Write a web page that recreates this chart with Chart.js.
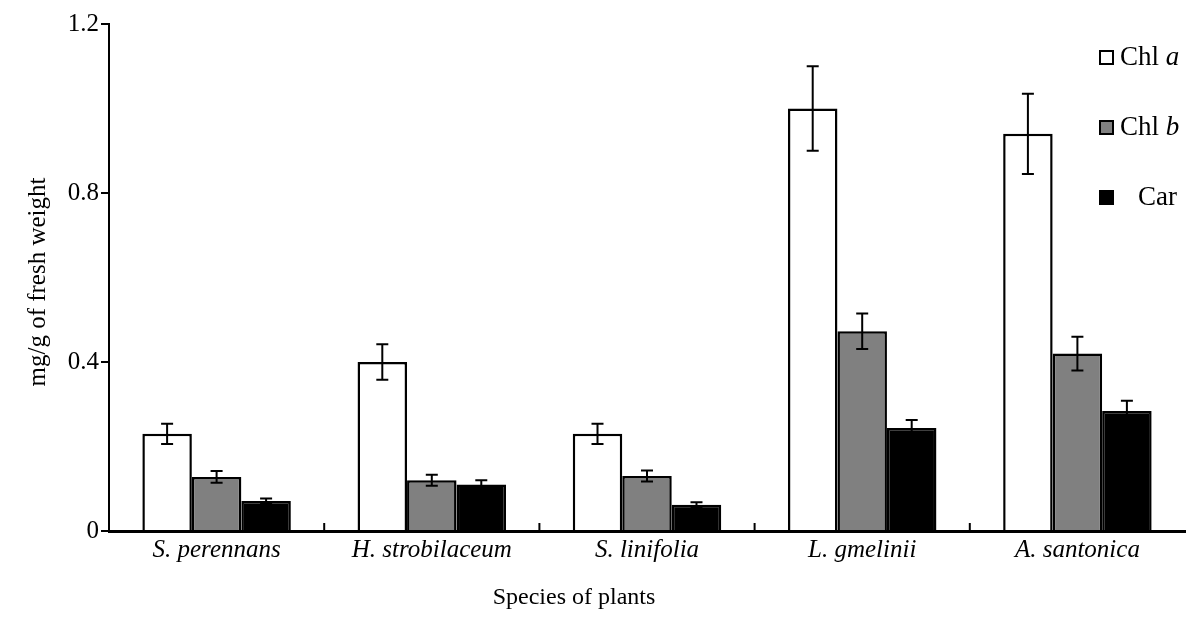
<!DOCTYPE html>
<html>
<head>
<meta charset="utf-8">
<script src="https://cdn.jsdelivr.net/npm/chart.js@4.4.0/dist/chart.umd.min.js"></script>
<style>
  html, body { margin: 0; padding: 0; background: #fff; }
  #wrap { width: 1189px; height: 619px; }
</style>
</head>
<body>
<div id="wrap"><canvas id="myChart" width="1189" height="619"></canvas></div>
<script>
// data
const categories = ['S. perennans', 'H. strobilaceum', 'S. linifolia', 'L. gmelinii', 'A. santonica'];
const chlA = [0.23, 0.40, 0.23, 1.00, 0.94];
const chlAErr = [0.024, 0.042, 0.024, 0.10, 0.095];
const chlB = [0.128, 0.12, 0.13, 0.473, 0.42];
const chlBErr = [0.014, 0.013, 0.013, 0.042, 0.04];
const car = [0.071, 0.11, 0.062, 0.244, 0.284];
const carErr = [0.006, 0.01, 0.006, 0.019, 0.024];
const yTicks = [0, 0.4, 0.8, 1.2];

const serif = '"Liberation Serif", "Times New Roman", serif';

// error bars drawn on top of each bar
const errorBars = {
    id: 'errorBars',
    afterDatasetsDraw(chart) {
        const ctx = chart.ctx;
        const y = chart.scales.y;
        ctx.save();
        ctx.strokeStyle = '#000';
        ctx.lineWidth = 2;
        chart.data.datasets.forEach((ds, i) => {
            const meta = chart.getDatasetMeta(i);
            meta.data.forEach((bar, j) => {
                const v = ds.data[j], e = ds.errors[j];
                const top = y.getPixelForValue(v + e);
                const bot = y.getPixelForValue(v - e);
                ctx.beginPath();
                ctx.moveTo(bar.x, top); ctx.lineTo(bar.x, bot);
                ctx.moveTo(bar.x - 6, top); ctx.lineTo(bar.x + 6, top);
                ctx.moveTo(bar.x - 6, bot); ctx.lineTo(bar.x + 6, bot);
                ctx.stroke();
            });
        });
        ctx.restore();
    }
};

// small upward ticks between groups, axis titles and a hand drawn legend with italic letters
const extras = {
    id: 'extras',
    afterDraw(chart) {
        const ctx = chart.ctx;
        const x = chart.scales.x;
        const area = chart.chartArea;
        ctx.save();
        ctx.strokeStyle = '#000';
        ctx.lineWidth = 2;
        for (let i = 0; i < categories.length - 1; i++) {
            const bx = (x.getPixelForTick(i) + x.getPixelForTick(i + 1)) / 2;
            ctx.beginPath();
            ctx.moveTo(bx, area.bottom);
            ctx.lineTo(bx, area.bottom - 8);
            ctx.stroke();
        }

        // axis titles
        ctx.fillStyle = '#000';
        ctx.textAlign = 'center';
        ctx.textBaseline = 'middle';
        ctx.font = '24px ' + serif;
        ctx.fillText('Species of plants', 574, 598);
        ctx.save();
        ctx.translate(38, 282);
        ctx.rotate(-Math.PI / 2);
        ctx.font = '25px ' + serif;
        ctx.fillText('mg/g of fresh weight', 0, 0);
        ctx.restore();

        // legend
        const items = [
            {fill: '#fff', name: 'Chl ', it: 'a', y: 57, tx: 1120},
            {fill: '#808080', name: 'Chl ', it: 'b', y: 127, tx: 1120},
            {fill: '#000', name: 'Car', it: '', y: 197, tx: 1138}
        ];
        ctx.textAlign = 'left';
        items.forEach(it => {
            ctx.fillStyle = it.fill;
            ctx.fillRect(1100, it.y - 6, 13, 13);
            ctx.strokeRect(1100, it.y - 6, 13, 13);
            ctx.fillStyle = '#000';
            ctx.font = '27px ' + serif;
            ctx.fillText(it.name, it.tx, it.y + 1);
            const w = ctx.measureText(it.name).width;
            ctx.font = 'italic 27px ' + serif;
            ctx.fillText(it.it, it.tx + w, it.y + 1);
        });
        ctx.restore();
    }
};

new Chart(document.getElementById('myChart').getContext('2d'), {
    type: 'bar',
    data: {
        labels: categories,
        datasets: [
            {label: 'Chl a', data: chlA, errors: chlAErr, backgroundColor: '#fff', borderColor: '#000', borderWidth: 2.5},
            {label: 'Chl b', data: chlB, errors: chlBErr, backgroundColor: '#808080', borderColor: '#000', borderWidth: 2.5},
            {label: 'Car', data: car, errors: carErr, backgroundColor: '#000', borderColor: '#000', borderWidth: 2.5}
        ]
    },
    options: {
        responsive: false,
        animation: false,
        layout: {padding: {top: 24, right: 4, left: 0, bottom: 0}},
        datasets: {bar: {categoryPercentage: 0.69, barPercentage: 1}},
        plugins: {legend: {display: false}, tooltip: {enabled: false}},
        scales: {
            x: {
                grid: {display: false},
                border: {display: true, color: '#000', width: 3},
                ticks: {color: '#000', font: {family: serif, size: 25, style: 'italic'}, padding: -4, maxRotation: 0},
                afterFit(s) { s.height = 88; }
            },
            y: {
                min: 0,
                max: 1.2,
                afterBuildTicks(s) { s.ticks = yTicks.map(v => ({value: v})); },
                grid: {drawOnChartArea: false, drawTicks: true, tickLength: 8, color: '#000', lineWidth: 2},
                border: {display: true, color: '#000', width: 2},
                ticks: {color: '#000', font: {family: serif, size: 25}, padding: 2,
                    callback: v => v === 0 ? '0' : v.toFixed(1)},
                afterFit(s) { s.width = 109; }
            }
        }
    },
    plugins: [errorBars, extras]
});
</script>
</body>
</html>
